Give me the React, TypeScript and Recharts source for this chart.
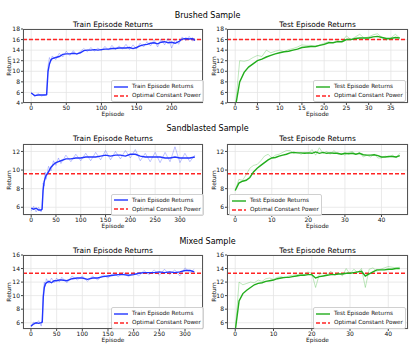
import React from "react";
import { LineChart, Line, XAxis, YAxis, CartesianGrid, ReferenceLine } from "recharts";

// ---- data ----

// Brushed
const brushedTrainEp = [0, 5, 10, 15, 20, 22, 24, 26, 28, 30, 35, 40, 45, 50, 55, 60, 65, 70, 75, 80, 85, 90, 95, 100, 105, 110, 115, 120, 125, 130, 135, 140, 145, 150, 155, 160, 165, 170, 175, 180, 185, 190, 195, 200, 205, 210, 215, 220, 225, 230, 233];
const brushedTrainSmooth = [5.9, 5.4, 5.5, 5.5, 5.5, 5.6, 10.0, 11.4, 12.1, 12.4, 12.6, 12.8, 13.2, 13.3, 13.3, 13.4, 13.3, 13.5, 13.9, 14.0, 14.0, 14.1, 14.0, 14.1, 14.2, 14.2, 14.3, 14.3, 14.4, 14.4, 14.4, 14.5, 14.3, 14.5, 14.8, 15.0, 15.1, 15.3, 15.4, 15.2, 15.5, 15.6, 15.4, 15.5, 15.3, 15.6, 16.1, 16.2, 16.1, 16.2, 15.8];
const brushedTrainRaw = [6.1, 5.2, 5.8, 5.3, 5.7, 5.4, 11.0, 12.6, 12.0, 12.9, 12.2, 13.4, 12.7, 13.8, 13.0, 13.9, 13.1, 13.8, 14.3, 13.7, 14.5, 13.8, 14.4, 13.9, 14.7, 14.0, 14.9, 14.1, 14.8, 14.2, 15.1, 14.1, 15.0, 14.2, 15.3, 14.6, 15.6, 14.8, 15.9, 14.6, 16.1, 15.0, 16.2, 14.4, 16.0, 15.1, 16.5, 15.8, 16.6, 15.7, 16.3];
const brushedTestSmooth = [3.0, 8.0, 9.8, 10.8, 11.4, 12.0, 12.3, 12.7, 13.0, 13.3, 13.5, 13.7, 13.8, 14.0, 14.2, 14.5, 14.6, 14.7, 14.7, 14.9, 15.1, 15.4, 15.4, 15.6, 15.6, 16.0, 16.0, 16.2, 16.3, 16.3, 16.3, 16.5, 16.6, 16.4, 16.2, 16.2, 16.4, 16.3];
const brushedTestRaw = [3.0, 12.0, 11.9, 12.1, 12.6, 13.0, 12.8, 14.0, 13.5, 13.8, 14.0, 13.7, 14.1, 14.3, 14.6, 15.0, 14.9, 14.9, 14.7, 15.0, 15.3, 15.6, 15.4, 15.8, 15.6, 16.7, 16.0, 16.5, 17.0, 16.3, 16.5, 16.9, 17.1, 16.4, 15.9, 16.3, 17.0, 16.3];
const brushedOptimal = 16.0;

// Sandblasted
const sandTrainEp = [0, 5, 10, 15, 20, 22, 24, 26, 28, 30, 35, 40, 45, 50, 55, 60, 70, 80, 90, 100, 110, 120, 130, 140, 150, 160, 170, 180, 190, 200, 210, 220, 230, 240, 250, 260, 270, 280, 290, 300, 310, 320, 330];
const sandTrainSmooth = [5.9, 5.8, 5.9, 5.7, 5.7, 5.8, 7.8, 8.7, 9.1, 9.4, 9.8, 10.3, 10.6, 10.8, 10.9, 11.0, 11.2, 11.2, 11.3, 11.3, 11.4, 11.4, 11.4, 11.5, 11.6, 11.5, 11.6, 11.6, 11.5, 11.7, 11.7, 11.5, 11.4, 11.4, 11.4, 11.4, 11.3, 11.3, 11.4, 11.3, 11.3, 11.3, 11.4];
const sandTrainRaw = [5.6, 6.1, 5.5, 6.0, 5.5, 6.0, 8.6, 8.3, 9.8, 9.0, 10.4, 9.9, 11.0, 10.5, 11.3, 10.7, 11.6, 10.9, 11.7, 11.0, 11.8, 11.0, 11.9, 11.1, 12.1, 11.1, 12.0, 11.2, 12.1, 11.3, 12.2, 11.0, 11.8, 10.9, 11.9, 10.8, 11.9, 10.9, 12.5, 10.8, 11.8, 10.9, 11.6];
const sandTestSmooth = [7.8, 8.6, 8.8, 8.9, 9.2, 9.8, 10.2, 10.5, 10.8, 11.1, 11.3, 11.35, 11.5, 11.6, 11.7, 11.85, 11.9, 11.85, 11.85, 11.8, 11.85, 11.8, 11.95, 11.8, 11.9, 11.8, 11.85, 11.8, 11.8, 11.7, 11.8, 11.75, 11.8, 11.7, 11.8, 11.65, 11.6, 11.6, 11.65, 11.55, 11.4, 11.4, 11.45, 11.45, 11.4, 11.55];
const sandTestRaw = [7.8, 9.0, 8.9, 9.5, 10.2, 10.5, 10.6, 11.0, 11.5, 11.7, 11.3, 11.6, 11.7, 11.9, 12.1, 12.1, 11.8, 11.9, 11.7, 11.9, 11.8, 12.2, 11.6, 12.4, 11.8, 12.0, 11.7, 12.1, 11.7, 11.8, 11.6, 11.9, 12.0, 11.7, 11.9, 11.4, 11.6, 11.4, 11.7, 11.3, 11.3, 11.5, 11.4, 11.6, 11.3, 11.8];
const sandOptimal = 9.6;

// Mixed
const mixedTrainEp = [0, 5, 10, 15, 20, 22, 24, 26, 28, 30, 35, 40, 45, 50, 55, 60, 70, 80, 90, 100, 110, 120, 130, 140, 150, 160, 170, 180, 190, 200, 210, 220, 230, 240, 250, 260, 270, 280, 290, 300, 310, 318];
const mixedTrainSmooth = [5.5, 5.8, 6.0, 5.9, 6.0, 6.1, 9.8, 11.2, 11.7, 11.9, 12.1, 11.9, 12.2, 12.2, 12.3, 12.3, 12.2, 12.5, 12.6, 12.6, 12.4, 12.6, 12.6, 12.8, 12.9, 13.0, 13.1, 13.1, 13.0, 13.1, 13.3, 13.4, 13.4, 13.4, 13.5, 13.4, 13.5, 13.4, 13.5, 13.7, 13.7, 13.5];
const mixedTrainRaw = [5.4, 6.1, 5.8, 6.3, 5.5, 6.4, 10.5, 12.0, 11.4, 12.5, 11.8, 12.6, 11.9, 12.6, 12.0, 12.7, 11.9, 12.9, 12.3, 12.9, 12.1, 12.9, 12.3, 13.1, 12.6, 13.3, 12.8, 13.4, 12.8, 13.4, 12.9, 13.7, 13.1, 13.8, 13.0, 13.9, 13.1, 13.8, 12.9, 14.1, 13.4, 13.9];
const mixedTestSmooth = [4.8, 9.2, 10.3, 10.8, 11.2, 11.6, 11.8, 11.9, 12.1, 12.2, 12.3, 12.5, 12.6, 12.7, 12.7, 12.8, 12.9, 13.0, 13.0, 13.1, 13.1, 12.6, 12.8, 12.9, 13.0, 13.1, 13.1, 13.2, 13.2, 13.3, 13.3, 13.4, 13.5, 13.6, 12.9, 13.2, 13.5, 13.8, 13.8, 13.8, 13.9, 13.9, 14.0, 14.0];
const mixedTestRaw = [4.8, 12.0, 11.6, 11.8, 12.0, 11.9, 12.3, 12.1, 12.5, 12.6, 12.4, 12.7, 12.8, 12.6, 12.9, 13.0, 13.1, 13.2, 13.1, 13.5, 13.3, 11.2, 13.2, 13.3, 13.1, 13.6, 13.0, 13.4, 12.9, 14.0, 13.2, 13.9, 13.4, 14.0, 11.2, 13.9, 14.1, 13.6, 13.9, 14.1, 14.3, 14.2, 14.1, 14.2];
const mixedOptimal = 13.3;

// ticks
const trainTicksA = [0, 50, 100, 150, 200];
const trainTicksB = [0, 50, 100, 150, 200, 250, 300];
const testTicksA = [0, 5, 10, 15, 20, 25, 30, 35];
const testTicksB = [0, 10, 20, 30, 40];
const yTicksA = [4, 6, 8, 10, 12, 14, 16, 18];
const yTicksB = [6, 8, 10, 12];
const yTicksC = [6, 8, 10, 12, 14, 16];

const FONT = "'DejaVu Sans', sans-serif";
const BLUE = "#2236ff";
const GREEN = "#22ad1c";
const RED = "#ff2424";
const YW = 22;
const XH = 12;
const MT = 5; // room above plot for the top tick label
const MR = 7; // room right of plot for the last tick label

const zip = (ep: number[], smooth: number[], raw: number[]) =>
  ep.map((e, i) => ({ ep: e, smooth: smooth[i], raw: raw[i] }));
const seq = (smooth: number[], raw: number[]) =>
  smooth.map((s, i) => ({ ep: i, smooth: s, raw: raw[i] }));

type PanelProps = {
  left: number; top: number; pw: number; ph: number;
  data: { ep: number; smooth: number; raw: number }[];
  xDomain: [number, number]; yDomain: [number, number];
  xTicks: number[]; yTicks: number[];
  color: string; name: string; optimal: number;
  title: string; titleY: number;
  legend: [number, number];
  labelX: number;
};

function Legend({ x, y, color, name }: { x: number; y: number; color: string; name: string }) {
  const row = (dash: boolean, c: string, text: string) => (
    <div style={{ display: "flex", alignItems: "center", height: 9 }}>
      <svg width={14} height={4} style={{ marginRight: 4 }}>
        <line x1={0} y1={2} x2={14} y2={2} stroke={c} strokeWidth={1.4} strokeDasharray={dash ? "4 2" : undefined} />
      </svg>
      <span>{text}</span>
    </div>
  );
  return (
    <div style={{
      position: "absolute", left: x, top: y, width: 88, padding: "1px 1px 1px 2px",
      border: "1px solid #d0d0d0", borderRadius: 2, background: "rgba(255,255,255,0.85)",
      fontSize: 5.7, fontFamily: FONT, color: "#111", lineHeight: "9px", whiteSpace: "nowrap",
    }}>
      {row(false, color, name)}
      {row(true, RED, "Optimal Constant Power")}
    </div>
  );
}

function Panel(p: PanelProps) {
  const tick = { fontSize: 6, fill: "#111", fontFamily: FONT };
  return (
    <>
      <div style={{ position: "absolute", left: p.left, width: p.pw, top: p.titleY - 5, height: 10, textAlign: "center", fontSize: 7.4, fontFamily: FONT, lineHeight: "10px", color: "#000" }}>
        {p.title}
      </div>
      <div style={{ position: "absolute", left: p.left - YW, top: p.top - MT }}>
        <LineChart width={p.pw + YW + MR} height={p.ph + XH + MT} data={p.data} margin={{ top: MT, right: MR, bottom: 0, left: 0 }}>
          <CartesianGrid stroke="#e4e4e4" strokeWidth={0.8} />
          <XAxis dataKey="ep" type="number" domain={p.xDomain} ticks={p.xTicks} allowDataOverflow height={XH}
            tick={tick} tickSize={2} tickMargin={1} axisLine={false} tickLine={{ stroke: "#444" }} interval={0} />
          <YAxis type="number" domain={p.yDomain} ticks={p.yTicks} allowDataOverflow width={YW}
            tick={tick} tickSize={2} tickMargin={1} axisLine={false} tickLine={{ stroke: "#444" }} interval={0} />
          <ReferenceLine y={p.optimal} stroke={RED} strokeWidth={1.4} strokeDasharray="4 2" />
          <Line dataKey="raw" stroke={p.color} strokeOpacity={0.32} strokeWidth={0.9} dot={false} isAnimationActive={false} />
          <Line dataKey="smooth" stroke={p.color} strokeWidth={1.4} dot={false} isAnimationActive={false} />
        </LineChart>
      </div>
      <div style={{ position: "absolute", left: p.left, top: p.top, width: p.pw, height: p.ph, border: "0.8px solid #555", boxSizing: "border-box", pointerEvents: "none" }} />
      <div style={{ position: "absolute", left: p.left, width: p.pw, top: p.top + p.ph + 7, textAlign: "center", fontSize: 5.8, fontFamily: FONT, lineHeight: "8px", color: "#111" }}>
        Episode
      </div>
      <div style={{ position: "absolute", left: p.labelX - 20, top: p.top + p.ph / 2 - 4, width: 40, height: 8, textAlign: "center", fontSize: 5.8, fontFamily: FONT, lineHeight: "8px", color: "#111", transform: "rotate(-90deg)" }}>
        Return
      </div>
      <Legend x={p.legend[0]} y={p.legend[1]} color={p.color} name={p.name} />
    </>
  );
}

function SupTitle({ y, text }: { y: number; text: string }) {
  return (
    <div style={{ position: "absolute", left: 0, width: 415, top: y - 6, height: 12, textAlign: "center", fontSize: 8, fontFamily: FONT, lineHeight: "12px", color: "#000" }}>
      {text}
    </div>
  );
}

export default function App() {
  const L = 23, R = 227, LW = 180, RW = 181;
  return (
    <div style={{ position: "absolute", left: 0, top: 0, width: 415, height: 351, background: "#fff", overflow: "hidden" }}>
      <SupTitle y={15.5} text="Brushed Sample" />
      <Panel left={L} top={29} pw={LW} ph={74} data={zip(brushedTrainEp, brushedTrainSmooth, brushedTrainRaw)}
        xDomain={[-11.65, 244.65]} yDomain={[4, 18]} xTicks={trainTicksA} yTicks={yTicksA}
        color={BLUE} name="Train Episode Returns" optimal={brushedOptimal} title="Train Episode Returns" titleY={25}
        legend={[111, 80]} labelX={9} />
      <Panel left={R} top={29} pw={RW} ph={74} data={seq(brushedTestSmooth, brushedTestRaw)}
        xDomain={[-1.85, 38.85]} yDomain={[4, 18]} xTicks={testTicksA} yTicks={yTicksA}
        color={GREEN} name="Test Episode Returns" optimal={brushedOptimal} title="Test Episode Returns" titleY={25}
        legend={[313, 80]} labelX={214} />

      <SupTitle y={129} text="Sandblasted Sample" />
      <Panel left={L} top={144} pw={LW} ph={71} data={zip(sandTrainEp, sandTrainSmooth, sandTrainRaw)}
        xDomain={[-16.5, 346.5]} yDomain={[5.17, 12.8]} xTicks={trainTicksB} yTicks={yTicksB}
        color={BLUE} name="Train Episode Returns" optimal={sandOptimal} title="Train Episode Returns" titleY={138.5}
        legend={[111, 193.5]} labelX={9} />
      <Panel left={R} top={144} pw={RW} ph={71} data={seq(sandTestSmooth, sandTestRaw)}
        xDomain={[-2.25, 47.25]} yDomain={[5.17, 12.8]} xTicks={testTicksB} yTicks={yTicksB}
        color={GREEN} name="Test Episode Returns" optimal={sandOptimal} title="Test Episode Returns" titleY={138.5}
        legend={[229, 194]} labelX={214} />

      <SupTitle y={242} text="Mixed Sample" />
      <Panel left={L} top={255} pw={LW} ph={74} data={zip(mixedTrainEp, mixedTrainSmooth, mixedTrainRaw)}
        xDomain={[-15.5, 335]} yDomain={[5.07, 16]} xTicks={trainTicksB} yTicks={yTicksC}
        color={BLUE} name="Train Episode Returns" optimal={mixedOptimal} title="Train Episode Returns" titleY={251}
        legend={[111, 307]} labelX={9} />
      <Panel left={R} top={255} pw={RW} ph={74} data={seq(mixedTestSmooth, mixedTestRaw)}
        xDomain={[-2.15, 45.15]} yDomain={[5.07, 16]} xTicks={testTicksB} yTicks={yTicksC}
        color={GREEN} name="Test Episode Returns" optimal={mixedOptimal} title="Test Episode Returns" titleY={251}
        legend={[313, 307]} labelX={214} />
    </div>
  );
}
